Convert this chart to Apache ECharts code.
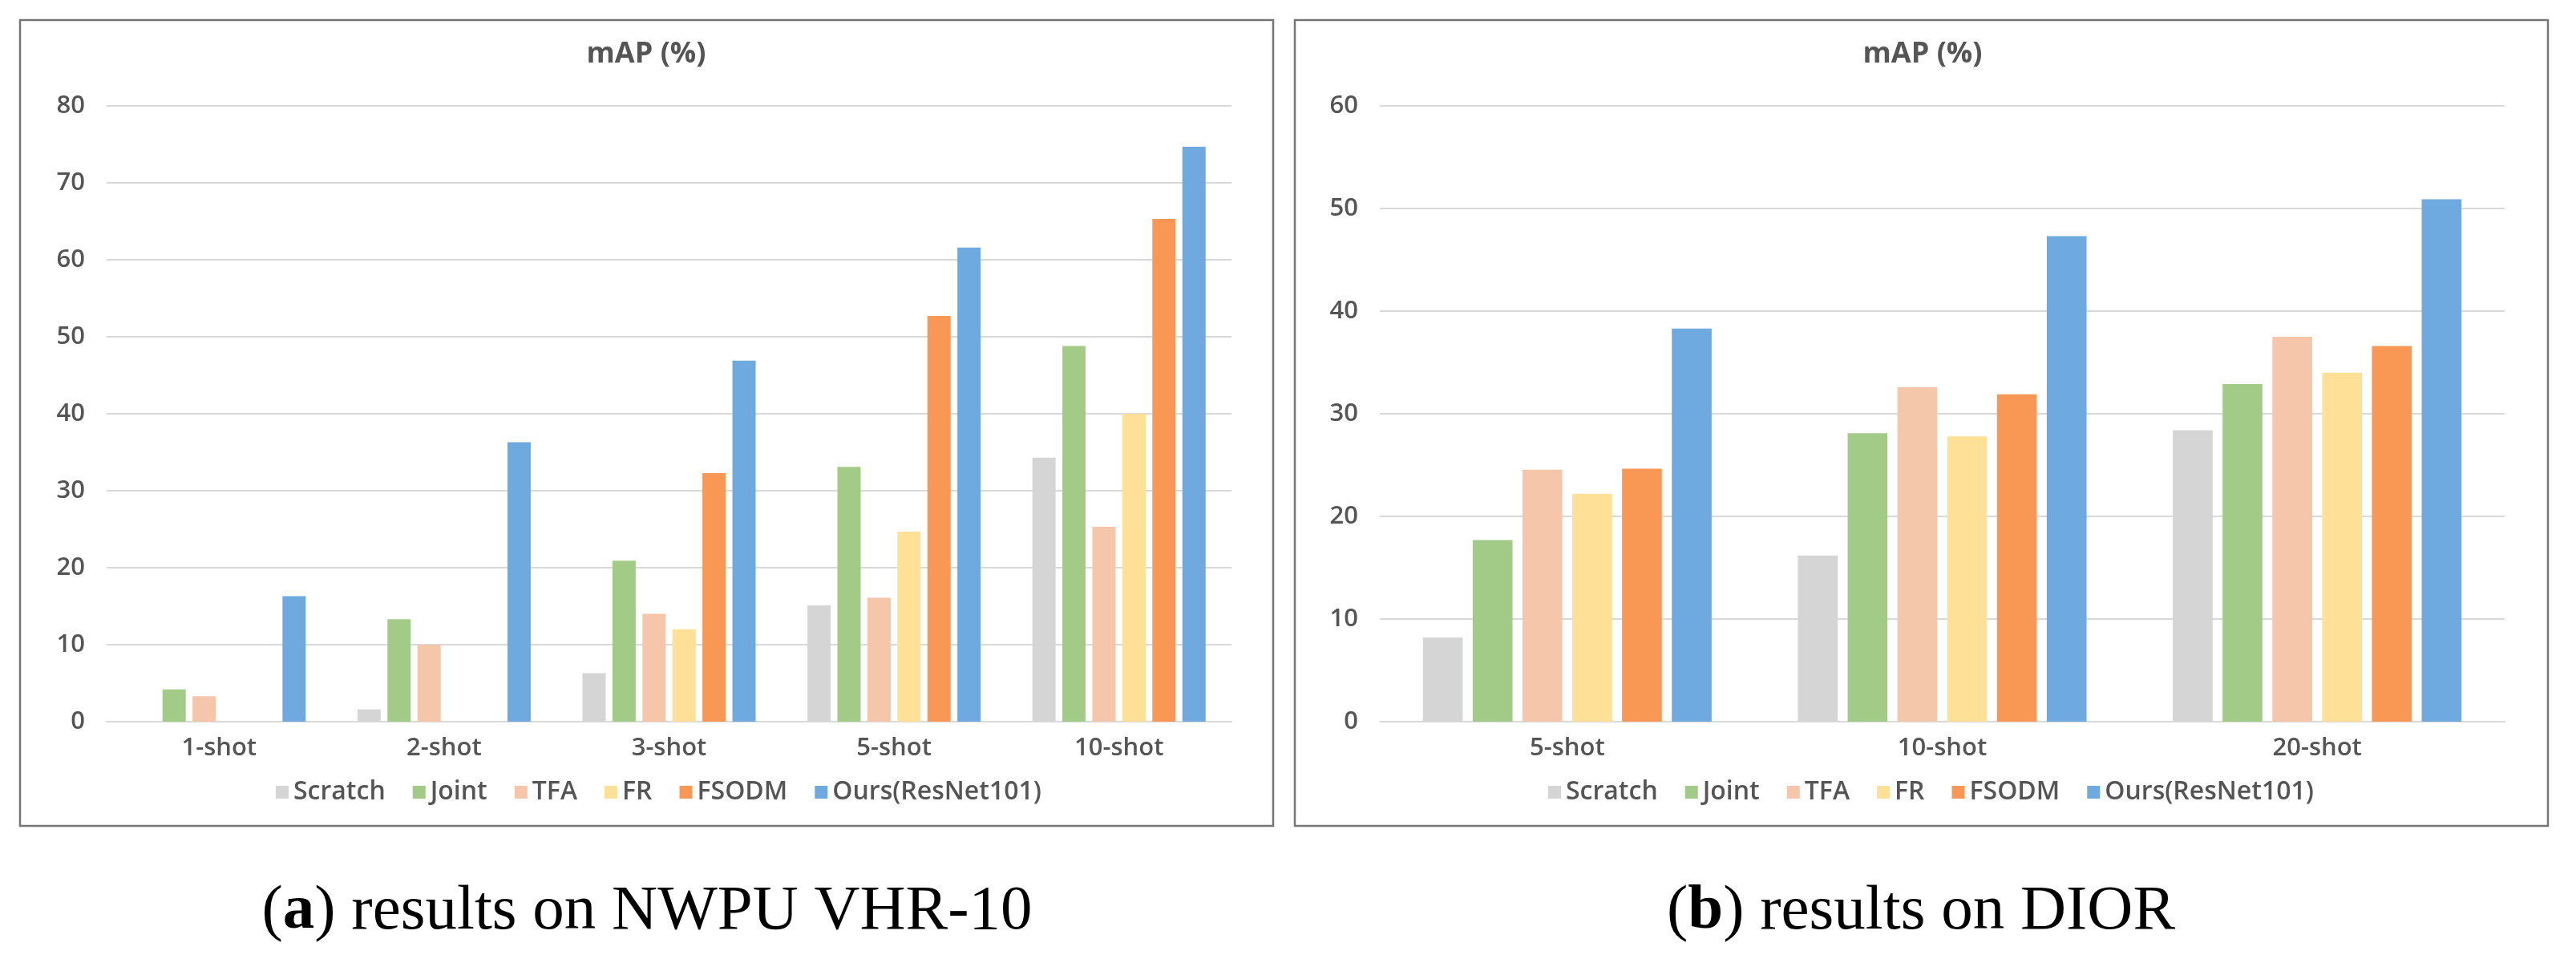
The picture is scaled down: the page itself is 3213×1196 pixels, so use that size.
<!DOCTYPE html>
<html>
<head>
<meta charset="utf-8">
<script src="https://cdn.jsdelivr.net/npm/echarts@6/dist/echarts.min.js"></script>
<style>
html,body{margin:0;padding:0;background:#fff;}
#c{width:3213px;height:1196px;}
</style>
</head>
<body>
<div id="c"></div>
<script>
// ---- data ----
const seriesNames = ['Scratch', 'Joint', 'TFA', 'FR', 'FSODM', 'Ours(ResNet101)'];
const seriesColors = ['#D5D5D5', '#A3CB88', '#F5C6A9', '#FEE196', '#F99854', '#6EAADF'];

const nwpuCategories = ['1-shot', '2-shot', '3-shot', '5-shot', '10-shot'];
const nwpuScratch = [0, 1.6, 6.3, 15.1, 34.3];
const nwpuJoint   = [4.2, 13.3, 20.9, 33.1, 48.8];
const nwpuTFA     = [3.3, 10.0, 14.0, 16.1, 25.3];
const nwpuFR      = [0, 0, 12.0, 24.7, 40.0];
const nwpuFSODM   = [0, 0, 32.3, 52.7, 65.3];
const nwpuOurs    = [16.3, 36.3, 46.9, 61.6, 74.7];

const diorCategories = ['5-shot', '10-shot', '20-shot'];
const diorScratch = [8.2, 16.2, 28.4];
const diorJoint   = [17.7, 28.1, 32.9];
const diorTFA     = [24.55, 32.6, 37.5];
const diorFR      = [22.2, 27.8, 34.0];
const diorFSODM   = [24.65, 31.9, 36.6];
const diorOurs    = [38.3, 47.3, 50.9];

const nwpuYTicks = {min: 0, max: 80, interval: 10};
const diorYTicks = {min: 0, max: 60, interval: 10};

const titleText = 'mAP (%)';
const captionA = ['a', ' results on NWPU VHR-10'];
const captionB = ['b', ' results on DIOR'];

// ---- chart ----
const nwpuData = [nwpuScratch, nwpuJoint, nwpuTFA, nwpuFR, nwpuFSODM, nwpuOurs];
const diorData = [diorScratch, diorJoint, diorTFA, diorFR, diorFSODM, diorOurs];

const FONT = '"Open Sans", "Noto Sans", sans-serif';
const TXT = '#555555';
const GRID = '#D9D9D9';
const WEIGHT = 600;

function xAxis(idx, cats) {
  return {
    type: 'category', gridIndex: idx, data: cats,
    axisTick: {show: false},
    axisLine: {lineStyle: {color: GRID, width: 2}},
    axisLabel: {color: TXT, fontSize: 31, fontWeight: WEIGHT, fontFamily: FONT, margin: 18}
  };
}
function yAxis(idx, t) {
  return {
    type: 'value', gridIndex: idx, min: t.min, max: t.max, interval: t.interval,
    axisLine: {show: false}, axisTick: {show: false},
    splitLine: {lineStyle: {color: GRID, width: 2}},
    axisLabel: {color: TXT, fontSize: 31, fontWeight: WEIGHT, fontFamily: FONT, margin: 27}
  };
}

const series = [];
nwpuData.forEach((d, i) => series.push({
  type: 'bar', name: seriesNames[i], xAxisIndex: 0, yAxisIndex: 0, data: d,
  itemStyle: {color: seriesColors[i]}, barGap: '29%', barCategoryGap: '23%'
}));
diorData.forEach((d, i) => series.push({
  type: 'bar', name: seriesNames[i], xAxisIndex: 1, yAxisIndex: 1, data: d,
  itemStyle: {color: seriesColors[i]}, barGap: '25%', barCategoryGap: '23%'
}));

function legend(centerX) {
  return {
    data: seriesNames, top: 972, left: 'auto', width: 1000,
    itemWidth: 16, itemHeight: 16, itemGap: 34, padding: 0,
    icon: 'rect',
    textStyle: {color: TXT, fontSize: 32, fontWeight: WEIGHT, fontFamily: FONT, padding: [0, 0, 0, 1]},
    selectedMode: false
  };
}

function caption(x, parts) {
  return {
    type: 'text', x: x, y: 1137,
    style: {
      text: '{n|(}{b|' + parts[0] + '}{n|)' + parts[1] + '}',
      align: 'center', verticalAlign: 'middle',
      rich: {
        n: {fontFamily: '"Liberation Serif", serif', fontSize: 79, fill: '#000'},
        b: {fontFamily: '"Liberation Serif", serif', fontSize: 79, fontWeight: 'bold', fill: '#000'}
      }
    }
  };
}

const legA = legend(814); legA.left = 814; legA.left = undefined;
const option = {
  backgroundColor: '#fff',
  animation: false,
  title: [
    {text: titleText, left: 806, top: 50, textAlign: 'center', padding: 0,
     textStyle: {color: TXT, fontSize: 36, fontWeight: 'bold', fontFamily: FONT}},
    {text: titleText, left: 2398, top: 50, textAlign: 'center', padding: 0,
     textStyle: {color: TXT, fontSize: 36, fontWeight: 'bold', fontFamily: FONT}}
  ],
  legend: [
    Object.assign(legend(), {left: 344, right: null}),
    Object.assign(legend(), {left: 1931, right: null})
  ],
  grid: [
    {left: 133, top: 132, width: 1403, height: 768},
    {left: 1721, top: 132, width: 1403, height: 768}
  ],
  xAxis: [xAxis(0, nwpuCategories), xAxis(1, diorCategories)],
  yAxis: [yAxis(0, nwpuYTicks), yAxis(1, diorYTicks)],
  series: series,
  graphic: [
    {type: 'rect', shape: {x: 25, y: 25, width: 1563, height: 1005},
     style: {fill: null, stroke: '#767676', lineWidth: 2.5}},
    {type: 'rect', shape: {x: 1615, y: 25, width: 1563, height: 1005},
     style: {fill: null, stroke: '#767676', lineWidth: 2.5}},
    caption(807, captionA),
    caption(2396, captionB)
  ]
};

const chart = echarts.init(document.getElementById('c'), null, {renderer: 'canvas'});
chart.setOption(option);
</script>
</body>
</html>
